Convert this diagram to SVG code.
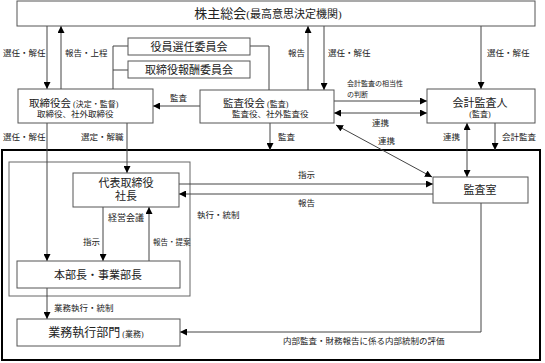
<svg xmlns="http://www.w3.org/2000/svg" width="545" height="363" viewBox="0 0 545 363">
<style>
text{font-family:"Liberation Serif","Noto Sans CJK JP",serif;fill:#222}
.b{fill:#fff;stroke:#555;stroke-width:1}
.t{font-size:11px}
.s{font-size:8px}
.l{font-size:8.5px}
.c{text-anchor:middle}
.ln{fill:none;stroke:#444;stroke-width:1}
.e{marker-end:url(#a)}
.d{marker-start:url(#a);marker-end:url(#a)}
</style>
<defs>
<marker id="a" viewBox="0 0 8 8" refX="8" refY="4" markerWidth="7" markerHeight="7" markerUnits="userSpaceOnUse" orient="auto-start-reverse"><path d="M0,0L8,4L0,8z" fill="#000"/></marker>
</defs>
<rect x="2" y="150" width="538" height="210" fill="#fff" stroke="#000" stroke-width="2"/>
<rect x="9" y="162" width="181" height="134" fill="none" stroke="#666" stroke-width="1"/>
<g id="connectors">
<line class="ln e" x1="47" y1="26" x2="47" y2="89"/>
<line class="ln e" x1="61" y1="89" x2="61" y2="26"/>
<polyline class="ln" points="113,89 113,46 128,46"/>
<line class="ln" x1="113" y1="70" x2="128" y2="70"/>
<polyline class="ln" points="250,46 269,46 269,90"/>
<line class="ln e" x1="308" y1="90" x2="308" y2="26"/>
<line class="ln e" x1="324" y1="26" x2="324" y2="90"/>
<line class="ln e" x1="481" y1="26" x2="481" y2="89"/>
<line class="ln e" x1="200" y1="106" x2="153" y2="106"/>
<line class="ln e" x1="334" y1="101" x2="427" y2="101"/>
<line class="ln d" x1="334" y1="113" x2="427" y2="113"/>
<line class="ln e" x1="270" y1="123" x2="270" y2="150"/>
<line class="ln e" x1="47" y1="123" x2="47" y2="261"/>
<line class="ln e" x1="127" y1="123" x2="127" y2="173"/>
<line class="ln d" x1="467" y1="123" x2="467" y2="177"/>
<line class="ln e" x1="495" y1="123" x2="495" y2="150"/>
<line class="ln d" x1="336" y1="125" x2="432" y2="177"/>
<line class="ln e" x1="179" y1="184" x2="433" y2="184"/>
<line class="ln e" x1="433" y1="194" x2="179" y2="194"/>
<line class="ln e" x1="103" y1="207" x2="103" y2="261"/>
<line class="ln e" x1="149" y1="261" x2="149" y2="207"/>
<line class="ln e" x1="47" y1="288" x2="47" y2="319"/>
<polyline class="ln e" points="481,203 481,332 180,332"/>
</g>
<g id="labels">
<text class="l" x="3" y="56">選任・解任</text>
<text class="l" x="65" y="56">報告・上程</text>
<text class="l" x="288" y="56">報告</text>
<text class="l" x="328" y="56">選任・解任</text>
<text class="l" x="487" y="56">選任・解任</text>
<text style="font-size:7px" x="347" y="86">会計監査の相当性</text>
<text style="font-size:7px" x="347" y="97">の判断</text>
<text class="l" x="170" y="101">監査</text>
<text class="l" x="372" y="126">連携</text>
<text class="l" x="278" y="140">監査</text>
<text class="l" x="378" y="144">連携</text>
<text class="l" x="443" y="140">連携</text>
<text class="l" x="502" y="140">会計監査</text>
<text class="l" x="3" y="140">選任・解任</text>
<text class="l" x="81" y="140">選定・解職</text>
<text class="l" x="298" y="178">指示</text>
<text class="l" x="298" y="206">報告</text>
<text class="l" x="197" y="218">執行・統制</text>
<text style="font-size:9px" x="108" y="221">経営会議</text>
<text class="l" x="83" y="245">指示</text>
<text style="font-size:7.5px" x="153" y="245">報告・提案</text>
<text class="l" x="54" y="311">業務執行・統制</text>
<text class="l" x="283" y="344">内部監査・財務報告に係る内部統制の評価</text>
</g>
<g id="n-shareholders">
<rect class="b" x="17" y="1" width="518" height="25"/>
<text class="c" x="268" y="18"><tspan style="font-size:13px">株主総会</tspan><tspan style="font-size:11px">(最高意思決定機関)</tspan></text>
</g>
<g id="n-nomination">
<rect class="b" x="128" y="38" width="122" height="17"/>
<text class="t c" x="189" y="50.5">役員選任委員会</text>
</g>
<g id="n-compensation">
<rect class="b" x="128" y="61" width="122" height="17"/>
<text class="t c" x="189" y="74">取締役報酬委員会</text>
</g>
<g id="n-board">
<rect class="b" x="18" y="89" width="135" height="34"/>
<text x="29" y="107"><tspan style="font-size:10.5px">取締役会</tspan><tspan style="font-size:8px"> (決定・監督)</tspan></text>
<text class="l" x="37" y="117">取締役、社外取締役</text>
</g>
<g id="n-audit-board">
<rect class="b" x="200" y="90" width="134" height="33"/>
<text x="223" y="107"><tspan style="font-size:10.5px">監査役会</tspan><tspan style="font-size:8px"> (監査)</tspan></text>
<text class="l" x="232" y="117">監査役、社外監査役</text>
</g>
<g id="n-accounting-auditor">
<rect class="b" x="427" y="89" width="108" height="34"/>
<text class="t c" x="480" y="107">会計監査人</text>
<text class="s c" x="480" y="117">(監査)</text>
</g>
<g id="n-president">
<rect class="b" x="73" y="173" width="106" height="34"/>
<text class="t c" x="126" y="187">代表取締役</text>
<text class="t c" x="126" y="200">社長</text>
</g>
<g id="n-internal-audit">
<rect class="b" x="433" y="177" width="95" height="26"/>
<text class="t c" x="480" y="194">監査室</text>
</g>
<g id="n-division-heads">
<rect class="b" x="17" y="261" width="163" height="27"/>
<text class="t c" x="98" y="279">本部長・事業部長</text>
</g>
<g id="n-operations">
<rect class="b" x="17" y="319" width="163" height="27"/>
<text class="c" x="96" y="337"><tspan style="font-size:12px">業務執行部門</tspan><tspan style="font-size:8px"> (業務)</tspan></text>
</g>
</svg>
